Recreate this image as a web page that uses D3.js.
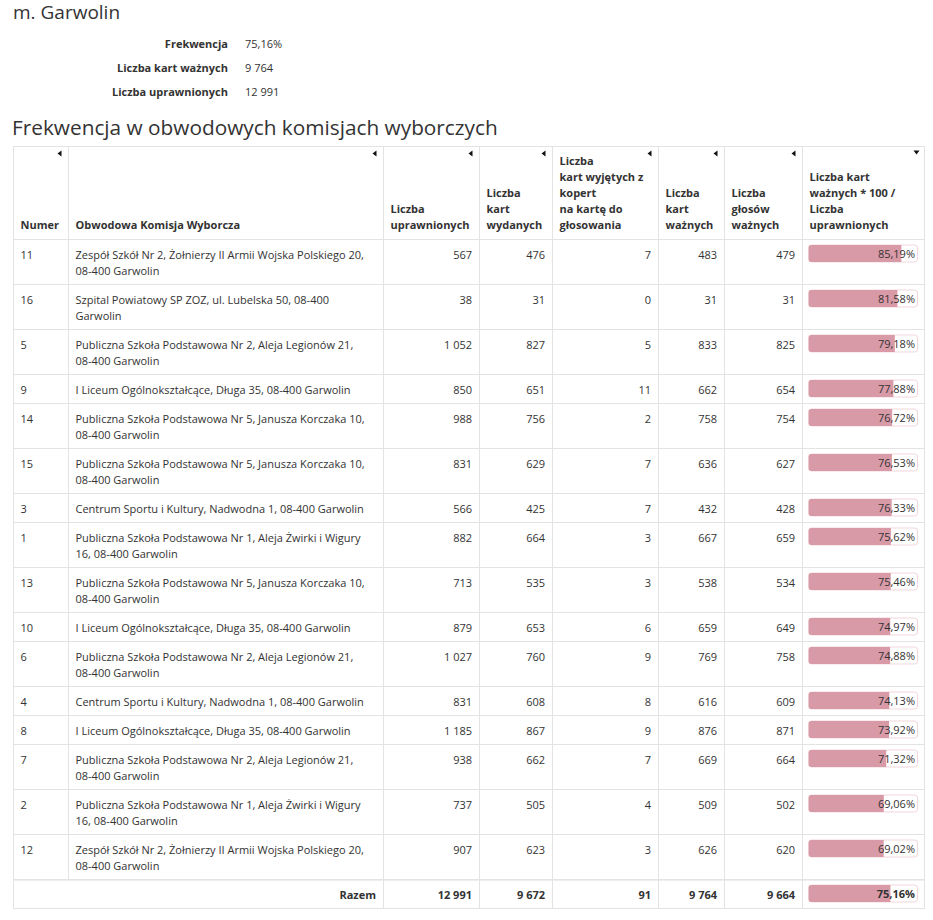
<!DOCTYPE html>
<html><head><meta charset="utf-8">
<script src="https://cdn.jsdelivr.net/npm/d3@7"></script>
<style>
html,body{margin:0;padding:0;background:#fff;}
svg{display:block;font-family:"Open Sans",sans-serif;}
</style></head>
<body>
<svg id="chart" width="933" height="920"></svg>
<script>
// ---------- data ----------
const pageTitle = "m. Garwolin";
const tableTitle = "Frekwencja w obwodowych komisjach wyborczych";
const summaryLabels = ["Frekwencja", "Liczba kart ważnych", "Liczba uprawnionych"];
const summaryValues = ["75,16%", "9 764", "12 991"];

const headerLines = [
  ["Numer"],
  ["Obwodowa Komisja Wyborcza"],
  ["Liczba", "uprawnionych"],
  ["Liczba", "kart", "wydanych"],
  ["Liczba", "kart wyjętych z", "kopert", "na kartę do", "głosowania"],
  ["Liczba", "kart", "ważnych"],
  ["Liczba", "głosów", "ważnych"],
  ["Liczba kart", "ważnych * 100 /", "Liczba", "uprawnionych"]
];

const numery = [11, 16, 5, 9, 14, 15, 3, 1, 13, 10, 6, 4, 8, 7, 2, 12];
const komisje = [
  "Zespół Szkół Nr 2, Żołnierzy II Armii Wojska Polskiego 20, 08-400 Garwolin",
  "Szpital Powiatowy SP ZOZ, ul. Lubelska 50, 08-400 Garwolin",
  "Publiczna Szkoła Podstawowa Nr 2, Aleja Legionów 21, 08-400 Garwolin",
  "I Liceum Ogólnokształcące, Długa 35, 08-400 Garwolin",
  "Publiczna Szkoła Podstawowa Nr 5, Janusza Korczaka 10, 08-400 Garwolin",
  "Publiczna Szkoła Podstawowa Nr 5, Janusza Korczaka 10, 08-400 Garwolin",
  "Centrum Sportu i Kultury, Nadwodna 1, 08-400 Garwolin",
  "Publiczna Szkoła Podstawowa Nr 1, Aleja Żwirki i Wigury 16, 08-400 Garwolin",
  "Publiczna Szkoła Podstawowa Nr 5, Janusza Korczaka 10, 08-400 Garwolin",
  "I Liceum Ogólnokształcące, Długa 35, 08-400 Garwolin",
  "Publiczna Szkoła Podstawowa Nr 2, Aleja Legionów 21, 08-400 Garwolin",
  "Centrum Sportu i Kultury, Nadwodna 1, 08-400 Garwolin",
  "I Liceum Ogólnokształcące, Długa 35, 08-400 Garwolin",
  "Publiczna Szkoła Podstawowa Nr 2, Aleja Legionów 21, 08-400 Garwolin",
  "Publiczna Szkoła Podstawowa Nr 1, Aleja Żwirki i Wigury 16, 08-400 Garwolin",
  "Zespół Szkół Nr 2, Żołnierzy II Armii Wojska Polskiego 20, 08-400 Garwolin"
];
const uprawnieni = [567, 38, 1052, 850, 988, 831, 566, 882, 713, 879, 1027, 831, 1185, 938, 737, 907];
const kartyWydane = [476, 31, 827, 651, 756, 629, 425, 664, 535, 653, 760, 608, 867, 662, 505, 623];
const kartyWyjete = [7, 0, 5, 11, 2, 7, 7, 3, 3, 6, 9, 8, 9, 7, 4, 3];
const kartyWazne = [483, 31, 833, 662, 758, 636, 432, 667, 538, 659, 769, 616, 876, 669, 509, 626];
const glosyWazne = [479, 31, 825, 654, 754, 627, 428, 659, 534, 649, 758, 609, 871, 664, 502, 620];
const frekwencja = [85.19, 81.58, 79.18, 77.88, 76.72, 76.53, 76.33, 75.62, 75.46, 74.97, 74.88, 74.13, 73.92, 71.32, 69.06, 69.02];
const razemLabel = "Razem";
const razem = [12991, 9672, 91, 9764, 9664];
const razemFrekwencja = 75.16;

// ---------- layout ----------
const svg = d3.select("#chart");
const textColor = "#333";
const borderColor = "#e3e3e3";
const colEdges = [13.5, 68.5, 383.5, 479.5, 552.5, 658.5, 724.5, 802.5, 924.5];
const tableTop = 146.5, headerBottom = 239.5;
const padX = 7, lineH = 16, padY = 6.5;
const fmtInt = n => d3.format(",")(n).replace(/,/g, "\u00a0");
const fmtPct = v => d3.format(".2f")(v).replace(".", ",") + "%";

// titles
svg.append("text").attr("x", 13).attr("y", 18.5).attr("font-size", 19).attr("fill", textColor).text(pageTitle);
svg.append("text").attr("x", 12).attr("y", 135).attr("font-size", 20.8).attr("fill", textColor).text(tableTitle);

// summary
const sumY = d3.scalePoint().domain(summaryLabels).range([48, 95.5]);
summaryLabels.forEach((l, i) => {
  svg.append("text").attr("x", 228).attr("y", sumY(l)).attr("text-anchor", "end")
    .attr("font-size", 11).attr("font-weight", "bold").attr("fill", textColor).text(l);
  svg.append("text").attr("x", 245).attr("y", sumY(l))
    .attr("font-size", 11).attr("fill", textColor).text(summaryValues[i]);
});

// wrap helper
const measurer = svg.append("text").attr("font-size", 11).attr("visibility", "hidden");
function wrap(str, maxW) {
  const words = str.split(" ");
  const lines = [];
  let cur = "";
  words.forEach(w => {
    const test = cur ? cur + " " + w : w;
    measurer.text(test);
    if (measurer.node().getComputedTextLength() > maxW && cur) { lines.push(cur); cur = w; }
    else cur = test;
  });
  if (cur) lines.push(cur);
  return lines;
}
const nameWidth = colEdges[2] - colEdges[1] - 2 * padX + 1;
const wrapped = komisje.map(k => wrap(k, nameWidth));
measurer.remove();

// row positions
const rowHeights = wrapped.map(l => l.length * lineH + 2 * padY);
const rowTops = [];
let acc = headerBottom;
rowHeights.forEach(h => { rowTops.push(acc); acc += h; });
const footerTop = acc, footerBottom = acc + lineH + 2 * padY;

// bar scale
const barX0 = colEdges[7] + 6, barX1 = colEdges[8] - 7;
const xBar = d3.scaleLinear().domain([0, 100]).range([0, barX1 - barX0]);

const defs = svg.append("defs");
const g = svg.append("g");

// header
headerLines.forEach((lines, c) => {
  const x = colEdges[c] + padX;
  const n = lines.length;
  lines.forEach((ln, k) => {
    g.append("text").attr("x", x).attr("y", headerBottom - 10.5 - (n - 1 - k) * lineH)
      .attr("font-size", 11).attr("font-weight", "bold").attr("fill", textColor).text(ln);
  });
  const tx = colEdges[c + 1] - 7;
  if (c < 7) {
    g.append("path").attr("d", `M${tx - 4},${tableTop + 7} L${tx},${tableTop + 4} L${tx},${tableTop + 10} Z`).attr("fill", "#111");
  } else {
    g.append("path").attr("d", `M${tx - 4},${tableTop + 4} L${tx + 2},${tableTop + 4} L${tx - 1},${tableTop + 8} Z`).attr("fill", "#111");
  }
});

// body rows
const numCols = [uprawnieni, kartyWydane, kartyWyjete, kartyWazne, glosyWazne];
let clipId = 0;
function drawBar(top, v, bold) {
  const y = top + 5.5;
  const id = "clip" + (clipId++);
  defs.append("clipPath").attr("id", id).append("rect")
    .attr("x", barX0).attr("y", y).attr("width", barX1 - barX0).attr("height", 17).attr("rx", 3);
  g.append("rect").attr("x", barX0).attr("y", y).attr("width", barX1 - barX0).attr("height", 17)
    .attr("rx", 3).attr("fill", "#fff").attr("stroke", "#f1d6dc").attr("stroke-width", 1);
  g.append("rect").attr("x", barX0).attr("y", y).attr("width", xBar(v)).attr("height", 17)
    .attr("clip-path", `url(#${id})`).attr("fill", "#d99aa8");
  g.append("text").attr("x", barX1 - 2.5).attr("y", top + 18.5).attr("text-anchor", "end")
    .attr("font-size", 11).attr("font-weight", bold ? "bold" : null).attr("fill", textColor).text(fmtPct(v));
}
numery.forEach((num, i) => {
  const top = rowTops[i];
  const by = top + 19.5;
  g.append("text").attr("x", colEdges[0] + padX).attr("y", by).attr("font-size", 11).attr("fill", textColor).text(num);
  wrapped[i].forEach((ln, k) => {
    g.append("text").attr("x", colEdges[1] + padX).attr("y", by + k * lineH).attr("font-size", 11).attr("fill", textColor).text(ln);
  });
  numCols.forEach((arr, c) => {
    g.append("text").attr("x", colEdges[c + 3] - 7.5).attr("y", by).attr("text-anchor", "end")
      .attr("font-size", 11).attr("fill", textColor).text(fmtInt(arr[i]));
  });
  drawBar(top, frekwencja[i], false);
});

// footer
g.append("text").attr("x", colEdges[2] - 7.5).attr("y", footerTop + 19.5).attr("text-anchor", "end")
  .attr("font-size", 11).attr("font-weight", "bold").attr("fill", textColor).text(razemLabel);
razem.forEach((v, c) => {
  g.append("text").attr("x", colEdges[c + 3] - 7.5).attr("y", footerTop + 19.5).attr("text-anchor", "end")
    .attr("font-size", 11).attr("font-weight", "bold").attr("fill", textColor).text(fmtInt(v));
});
drawBar(footerTop, razemFrekwencja, true);

// grid lines
const grid = svg.append("g").attr("stroke", borderColor).attr("stroke-width", 1).attr("fill", "none");
grid.append("rect").attr("x", colEdges[0]).attr("y", tableTop).attr("width", colEdges[8] - colEdges[0]).attr("height", footerBottom - tableTop);
[headerBottom, ...rowTops.slice(1), footerTop].forEach(y => {
  grid.append("line").attr("x1", colEdges[0]).attr("x2", colEdges[8]).attr("y1", y).attr("y2", y);
});
grid.append("line").attr("x1", colEdges[0]).attr("x2", colEdges[8]).attr("y1", footerTop + 1).attr("y2", footerTop + 1).attr("stroke", "#eee");
colEdges.slice(1, 8).forEach((x, c) => {
  const y2 = c === 0 ? footerTop : footerBottom;
  grid.append("line").attr("x1", x).attr("x2", x).attr("y1", tableTop).attr("y2", y2);
});
</script>
</body></html>
